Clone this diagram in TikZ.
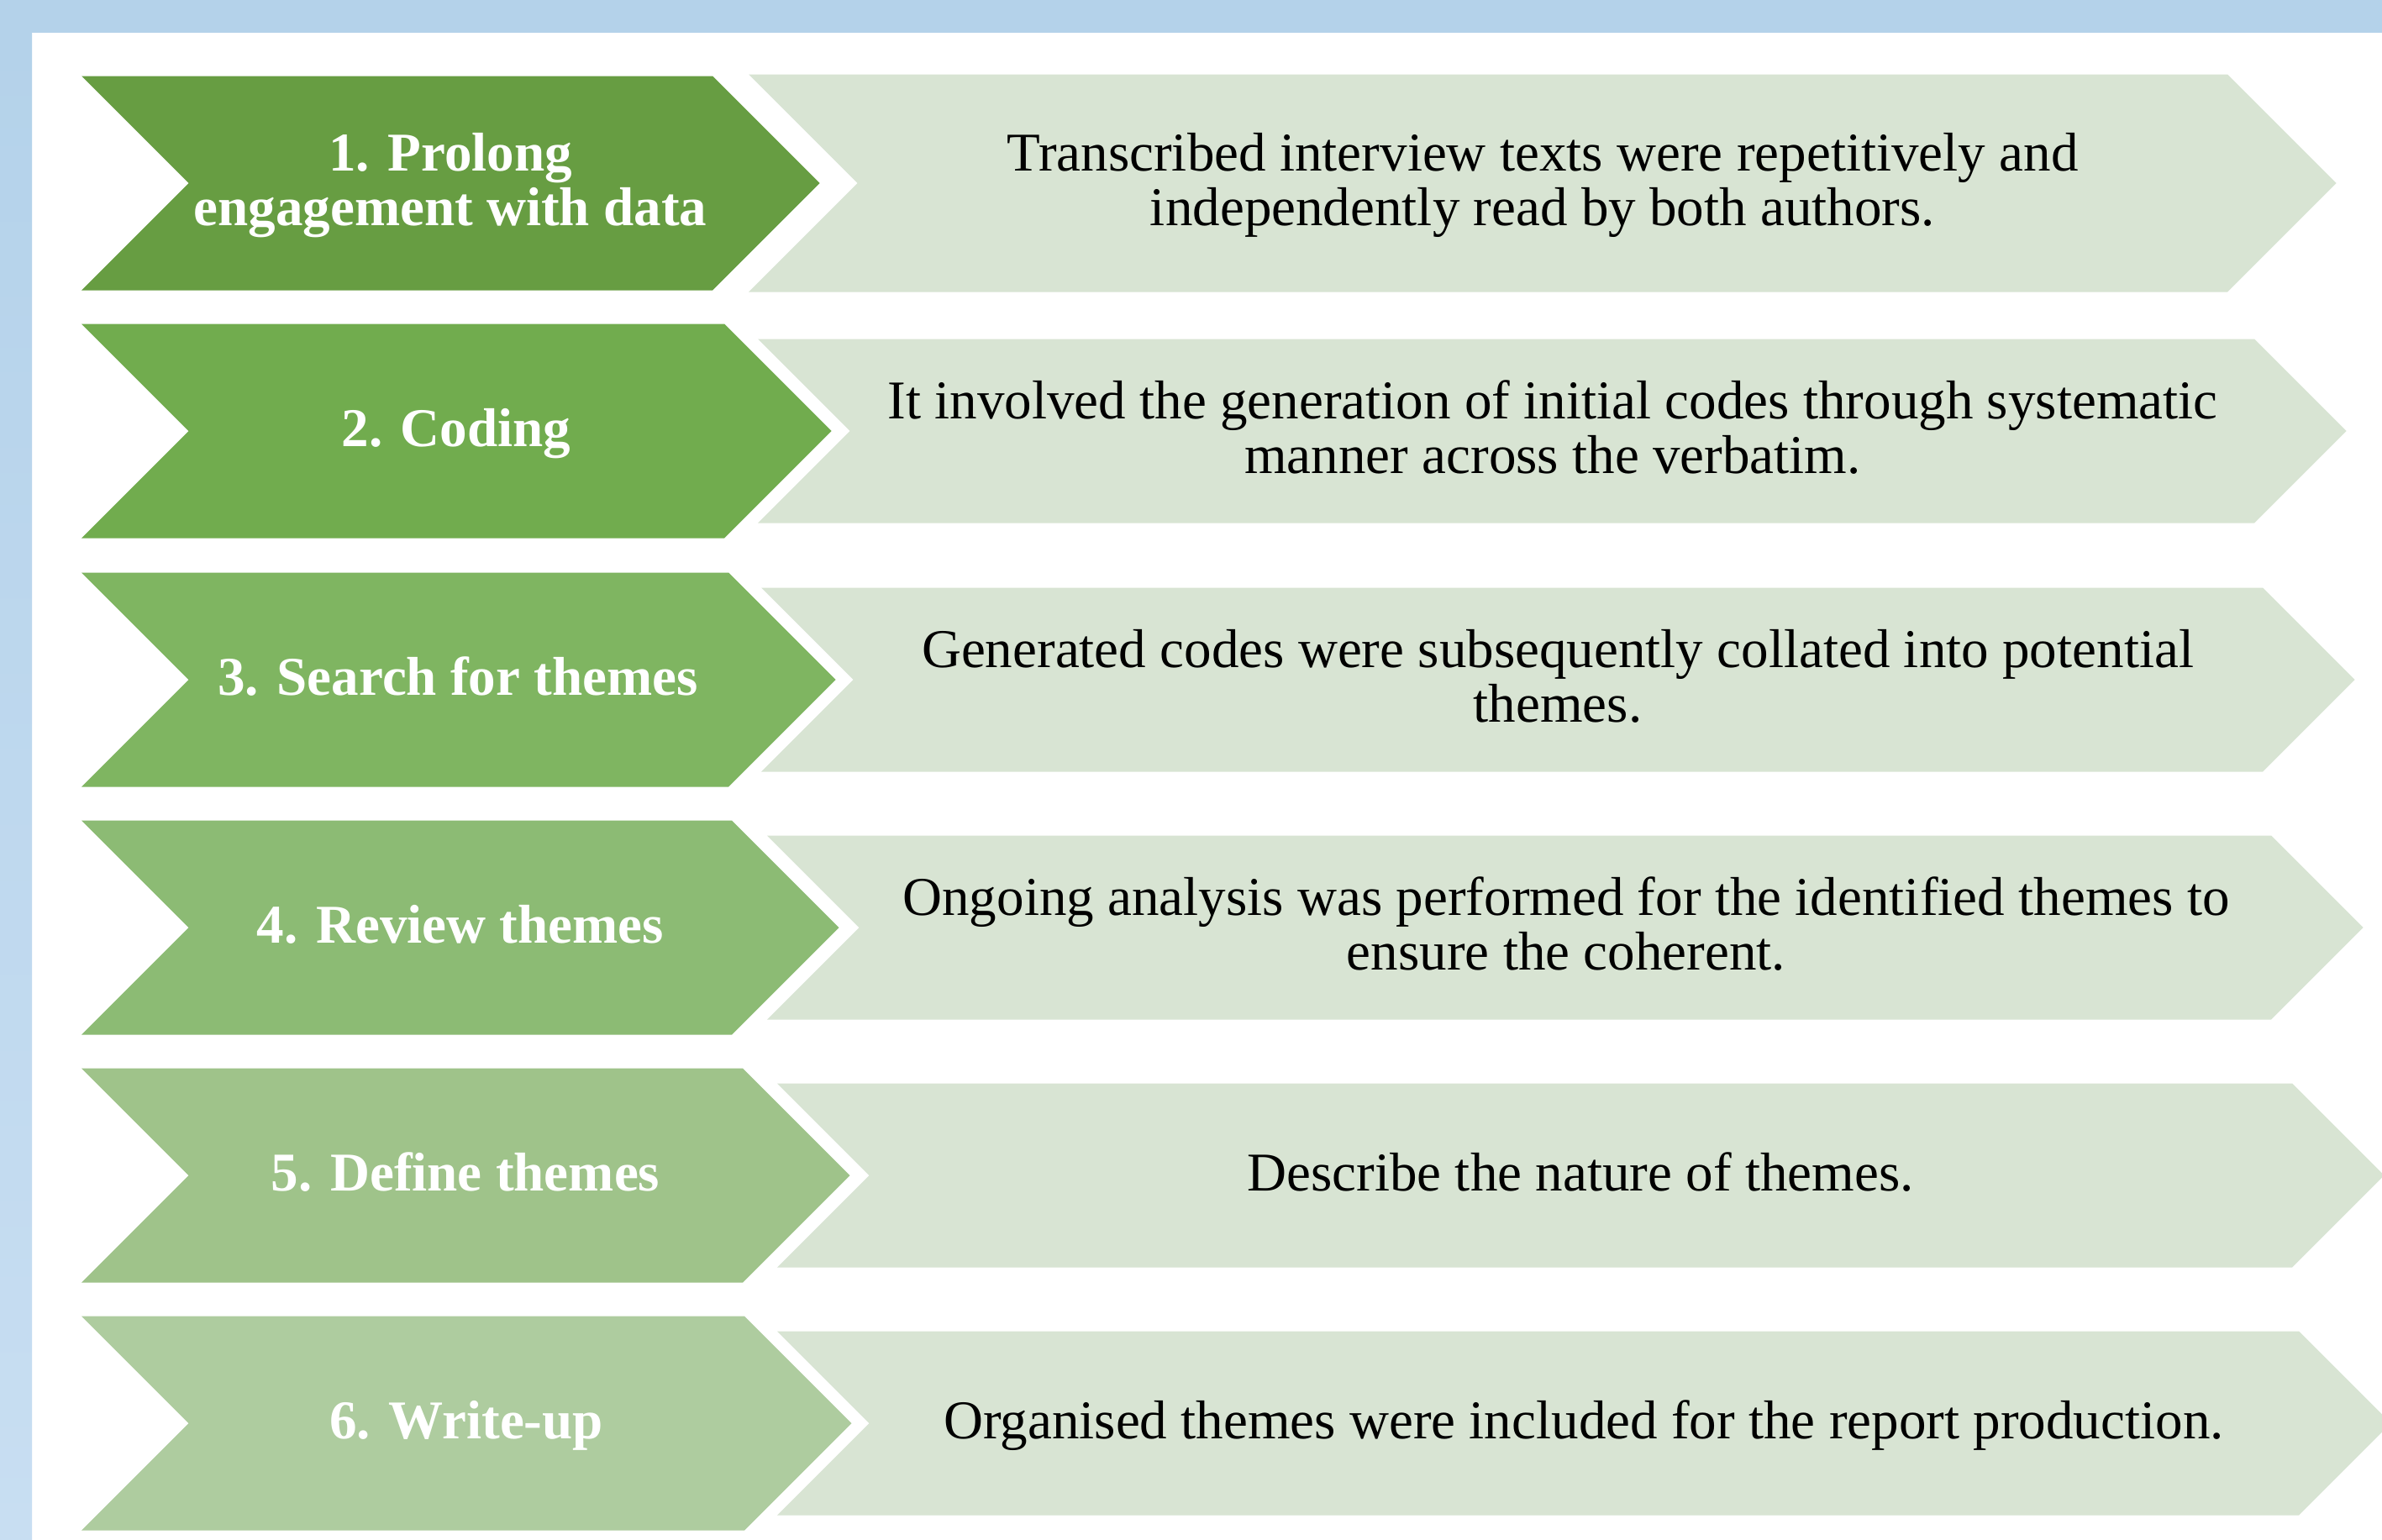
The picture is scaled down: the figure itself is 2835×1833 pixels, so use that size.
\documentclass[tikz,border=0pt]{standalone}
\usepackage{fontspec}
\setmainfont{Liberation Serif}
\definecolor{bandblue}{HTML}{B4D2EA}
\definecolor{bandlight}{HTML}{C8DEF2}
\definecolor{paleleaf}{HTML}{D8E4D3}
\definecolor{leafA}{HTML}{679D42}
\definecolor{leafB}{HTML}{71AC4E}
\definecolor{leafC}{HTML}{7FB561}
\definecolor{leafD}{HTML}{8CBB74}
\definecolor{leafE}{HTML}{9FC38A}
\definecolor{leafF}{HTML}{AECC9F}
\begin{document}
\begin{tikzpicture}[x=0.01cm, y=-0.01cm, declare function={gh=127.5; lh=109.5; th=129.5;}, line join=round,
  steplabel/.style={text=white, inner sep=0pt, yshift=-0.05cm, align=center, font=\fontsize{18.5}{18.5}\selectfont\bfseries, execute at begin node=\strut, execute at end node=\strut},
  stepdesc/.style={text=black, inner sep=0pt, yshift=-0.05cm, align=center, font=\fontsize{18.5}{18.5}\selectfont, execute at begin node=\strut, execute at end node=\strut}]
  \useasboundingbox (0,0) rectangle (2835,1833);
  \clip (0,0) rectangle (2835,1833);
  \fill[white] (0,0) rectangle (2835,1833);
  \fill[bandblue] (0,0) rectangle (2835,39);
  \shade[top color=bandblue, bottom color=bandlight] (0,39) rectangle (38,1833);
  \fill[leafA] (97,218-gh) -- (848,218-gh) -- (848+gh,218) -- (848,218+gh) -- (97,218+gh) -- (97+gh,218) -- cycle;
  \fill[leafB] (97,513-gh) -- (862,513-gh) -- (862+gh,513) -- (862,513+gh) -- (97,513+gh) -- (97+gh,513) -- cycle;
  \fill[leafC] (97,809-gh) -- (867,809-gh) -- (867+gh,809) -- (867,809+gh) -- (97,809+gh) -- (97+gh,809) -- cycle;
  \fill[leafD] (97,1104-gh) -- (871,1104-gh) -- (871+gh,1104) -- (871,1104+gh) -- (97,1104+gh) -- (97+gh,1104) -- cycle;
  \fill[leafE] (97,1399-gh) -- (884,1399-gh) -- (884+gh,1399) -- (884,1399+gh) -- (97,1399+gh) -- (97+gh,1399) -- cycle;
  \fill[leafF] (97,1694-gh) -- (886,1694-gh) -- (886+gh,1694) -- (886,1694+gh) -- (97,1694+gh) -- (97+gh,1694) -- cycle;
  \fill[paleleaf] (891,218-th) -- (2651,218-th) -- (2651+th,218) -- (2651,218+th) -- (891,218+th) -- (891+th,218) -- cycle;
  \fill[paleleaf] (902,513-lh) -- (2683,513-lh) -- (2683+lh,513) -- (2683,513+lh) -- (902,513+lh) -- (902+lh,513) -- cycle;
  \fill[paleleaf] (906,809-lh) -- (2693,809-lh) -- (2693+lh,809) -- (2693,809+lh) -- (906,809+lh) -- (906+lh,809) -- cycle;
  \fill[paleleaf] (913,1104-lh) -- (2703,1104-lh) -- (2703+lh,1104) -- (2703,1104+lh) -- (913,1104+lh) -- (913+lh,1104) -- cycle;
  \fill[paleleaf] (925,1399-lh) -- (2728,1399-lh) -- (2728+lh,1399) -- (2728,1399+lh) -- (925,1399+lh) -- (925+lh,1399) -- cycle;
  \fill[paleleaf] (925,1694-lh) -- (2736,1694-lh) -- (2736+lh,1694) -- (2736,1694+lh) -- (925,1694+lh) -- (925+lh,1694) -- cycle;
  \node[steplabel] (lab1) at (536,218) {1. Prolong\\engagement with data};
  \node[steplabel] (lab2) at (543,513) {2. Coding};
  \node[steplabel] (lab3) at (545,809) {3. Search for themes};
  \node[steplabel] (lab4) at (548,1104) {4. Review themes};
  \node[steplabel] (lab5) at (554,1399) {5. Define themes};
  \node[steplabel] (lab6) at (555,1694) {6. Write-up};
  \node[stepdesc] (desc1) at (1836,218) {Transcribed interview texts were repetitively and\\independently read by both authors.};
  \node[stepdesc] (desc2) at (1848,513) {It involved the generation of initial codes through systematic\\manner across the verbatim.};
  \node[stepdesc] (desc3) at (1854,809) {Generated codes were subsequently collated into potential\\themes.};
  \node[stepdesc] (desc4) at (1864,1104) {Ongoing analysis was performed for the identified themes to\\ensure the coherent.};
  \node[stepdesc] (desc5) at (1881,1399) {Describe the nature of themes.};
  \node[stepdesc] (desc6) at (1885,1694) {Organised themes were included for the report production.};
\end{tikzpicture}
\end{document}
